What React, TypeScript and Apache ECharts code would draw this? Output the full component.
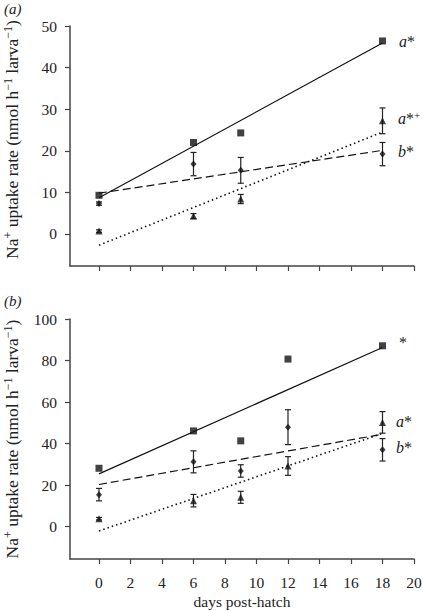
import React, { useEffect, useRef } from "react";
import * as echarts from "echarts";

const daysA = [0, 6, 9, 18];
const daysB = [0, 6, 9, 12, 18];
const xTicks = [0, 2, 4, 6, 8, 10, 12, 14, 16, 18, 20];
const yTicksA = [0, 10, 20, 30, 40, 50];
const yTicksB = [0, 20, 40, 60, 80, 100];

const squaresA = [9.3, 22.0, 24.3, 46.4];
const diamondsA = [7.3, 16.8, 15.3, 19.2];
const diamondsAErr = [0.4, 2.8, 3.1, 2.8];
const trianglesA = [0.7, 4.3, 8.4, 27.2];
const trianglesAErr = [0.3, 0.6, 1.1, 3.1];
const fitDays = [0, 18];
const fitSolidA = [8.7, 45.9];
const fitDashedA = [9.8, 20.1];
const fitDottedA = [-2.7, 24.5];

const squaresB = [28.1, 46.1, 41.3, 80.7, 87.1];
const diamondsB = [15.4, 31.2, 26.8, 47.9, 37.0];
const diamondsBErr = [3.0, 5.3, 3.0, 8.4, 5.4];
const trianglesB = [3.8, 12.5, 14.1, 29.2, 50.2];
const trianglesBErr = [0.6, 3.0, 2.9, 4.5, 5.2];
const fitSolidB = [25.4, 86.3];
const fitDashedB = [20.3, 44.5];
const fitDottedB = [-2.1, 44.9];

const FONT = "'Liberation Serif', 'Times New Roman', serif";
const TXT = "#222";
const AXC = "#444";

function pairs(xs: number[], ys: number[]) {
  return xs.map((x, i) => [x, ys[i]]);
}
function errData(xs: number[], ys: number[], es: number[]) {
  return xs.map((x, i) => [x, ys[i] - es[i], ys[i] + es[i]]);
}

const renderErr = (params: any, api: any) => {
  const x = api.value(0);
  const lo = api.coord([x, api.value(1)]);
  const hi = api.coord([x, api.value(2)]);
  const cw = 3;
  const style = { stroke: "#222", lineWidth: 1.2 };
  return {
    type: "group",
    children: [
      { type: "line", shape: { x1: lo[0], y1: lo[1], x2: hi[0], y2: hi[1] }, style },
      { type: "line", shape: { x1: lo[0] - cw, y1: lo[1], x2: lo[0] + cw, y2: lo[1] }, style },
      { type: "line", shape: { x1: hi[0] - cw, y1: hi[1], x2: hi[0] + cw, y2: hi[1] }, style },
    ],
  };
};

const lblRich = {
  n: { fontSize: 15.5, fontFamily: FONT, color: TXT },
};

const yName = "{n|Na}{sup|+}{n| uptake rate (nmol h}{sup|−1}{n| larva}{sup|−1}{n|)}";
const yNameRich = {
  n: { fontSize: 17.5, fontFamily: FONT, color: TXT },
  sup: { fontSize: 12, fontFamily: FONT, color: TXT, verticalAlign: "top", padding: [0, 0, 7, 0] },
};

function xAxis(idx: number, showLabels: boolean) {
  return {
    type: "value",
    gridIndex: idx,
    min: -1.84,
    max: 20,
    splitLine: { show: false },
    axisLine: { show: true, onZero: false, lineStyle: { color: AXC, width: 1.5 } },
    axisTick: { show: true, length: 5, customValues: xTicks, lineStyle: { color: AXC, width: 1.2 } },
    axisLabel: {
      show: showLabels,
      customValues: xTicks,
      formatter: "{n|{value}}",
      rich: lblRich,
      fontFamily: FONT,
      fontSize: 15.5,
      color: TXT,
      margin: 15,
    },
    name: showLabels ? "{n|days post-hatch}" : "",
    nameLocation: "middle",
    nameGap: 34,
    nameTextStyle: { fontFamily: FONT, fontSize: 15.5, color: TXT, rich: lblRich },
  };
}

function yAxis(idx: number, min: number, max: number, ticks: number[], shift: number) {
  return {
    type: "value",
    gridIndex: idx,
    min,
    max,
    splitLine: { show: false },
    axisLine: { show: true, onZero: false, lineStyle: { color: AXC, width: 1.5 } },
    axisTick: { show: true, length: 5, customValues: ticks, lineStyle: { color: AXC, width: 1.2 } },
    axisLabel: {
      customValues: ticks,
      formatter: "{n|{value}}",
      rich: lblRich,
      fontFamily: FONT,
      fontSize: 15.5,
      color: TXT,
      margin: 13,
    },
    name: yName,
    nameLocation: "middle",
    nameRotate: 90,
    nameGap: 49,
    nameTextStyle: {
      fontFamily: FONT, fontSize: 17.5, color: TXT, rich: yNameRich, padding: [0, 0, 0, shift],
    },
  };
}

function panelSeries(
  idx: number,
  days: number[],
  sq: number[],
  di: number[],
  diE: number[],
  tr: number[],
  trE: number[],
  fs: number[],
  fd: number[],
  fo: number[]
) {
  const ax = { xAxisIndex: idx, yAxisIndex: idx };
  return [
    {
      type: "line", ...ax, data: pairs(fitDays, fs), symbol: "none",
      lineStyle: { color: "#111", width: 1.2, type: "solid" }, z: 2,
    },
    {
      type: "line", ...ax, data: pairs(fitDays, fd), symbol: "none",
      lineStyle: { color: "#111", width: 1.2, type: [8, 4] }, z: 2,
    },
    {
      type: "line", ...ax, data: pairs(fitDays, fo), symbol: "none",
      lineStyle: { color: "#111", width: 1.6, type: [1.5, 3] }, z: 2,
    },
    { type: "custom", ...ax, renderItem: renderErr, data: errData(days, di, diE), z: 3 },
    { type: "custom", ...ax, renderItem: renderErr, data: errData(days, tr, trE), z: 3 },
    {
      type: "scatter", ...ax, data: pairs(days, sq), symbol: "rect", symbolSize: 7,
      itemStyle: { color: "#111" }, z: 4,
    },
    {
      type: "scatter", ...ax, data: pairs(days, di), symbol: "diamond", symbolSize: [6, 7],
      itemStyle: { color: "#111" }, z: 4,
    },
    {
      type: "scatter", ...ax, data: pairs(days, tr), symbol: "triangle", symbolSize: [7, 7],
      itemStyle: { color: "#111" }, z: 4,
    },
  ];
}

const italic = { fontFamily: FONT, fontSize: 15, fontStyle: "italic", fill: TXT, fontWeight: "normal" };
const richLbl = {
  i: { fontFamily: FONT, fontSize: 16, fontStyle: "italic", color: TXT },
  n: { fontFamily: FONT, fontSize: 16, color: TXT },
  sup: { fontFamily: FONT, fontSize: 11, color: TXT, verticalAlign: "top", padding: [0, 0, 7, 0] },
};

function ann(x: number, y: number, text: string) {
  return {
    type: "text",
    x,
    y,
    style: { text, rich: richLbl, fontFamily: FONT, fontSize: 16, fill: TXT, verticalAlign: "middle" },
  };
}

export default function App() {
  const ref = useRef<HTMLDivElement>(null);
  useEffect(() => {
    if (!ref.current) return;
    const chart = echarts.init(ref.current, null, { renderer: "svg" });
    chart.setOption({
      animation: false,
      backgroundColor: "#fff",
      textStyle: { fontFamily: FONT },
      grid: [
        { left: 70, top: 26, width: 344, height: 240, containLabel: false, outerBoundsMode: "none" },
        { left: 70, top: 319, width: 344, height: 240, containLabel: false, outerBoundsMode: "none" },
      ],
      xAxis: [xAxis(0, false), xAxis(1, true)],
      yAxis: [yAxis(0, -7.7, 50, yTicksA, 13), yAxis(1, -15.6, 100, yTicksB, 0)],
      series: [
        ...panelSeries(0, daysA, squaresA, diamondsA, diamondsAErr, trianglesA, trianglesAErr,
          fitSolidA, fitDashedA, fitDottedA),
        ...panelSeries(1, daysB, squaresB, diamondsB, diamondsBErr, trianglesB, trianglesBErr,
          fitSolidB, fitDashedB, fitDottedB),
      ],
      graphic: [
        { type: "text", x: 4, y: 1, style: { text: "(a)", ...italic } },
        { type: "text", x: 4, y: 293, style: { text: "(b)", ...italic } },
        ann(399, 41, "{i|a}{n|*}"),
        ann(398, 118, "{i|a}{n|*}{sup|+}"),
        ann(398, 151, "{i|b}{n|*}"),
        ann(399, 342, "{n|*}"),
        ann(396, 421, "{i|a}{n|*}"),
        ann(396, 447, "{i|b}{n|*}"),
      ],
    });
    return () => chart.dispose();
  }, []);
  return <div ref={ref} style={{ width: 423, height: 611, position: "absolute", left: 0, top: 0 }} />;
}
